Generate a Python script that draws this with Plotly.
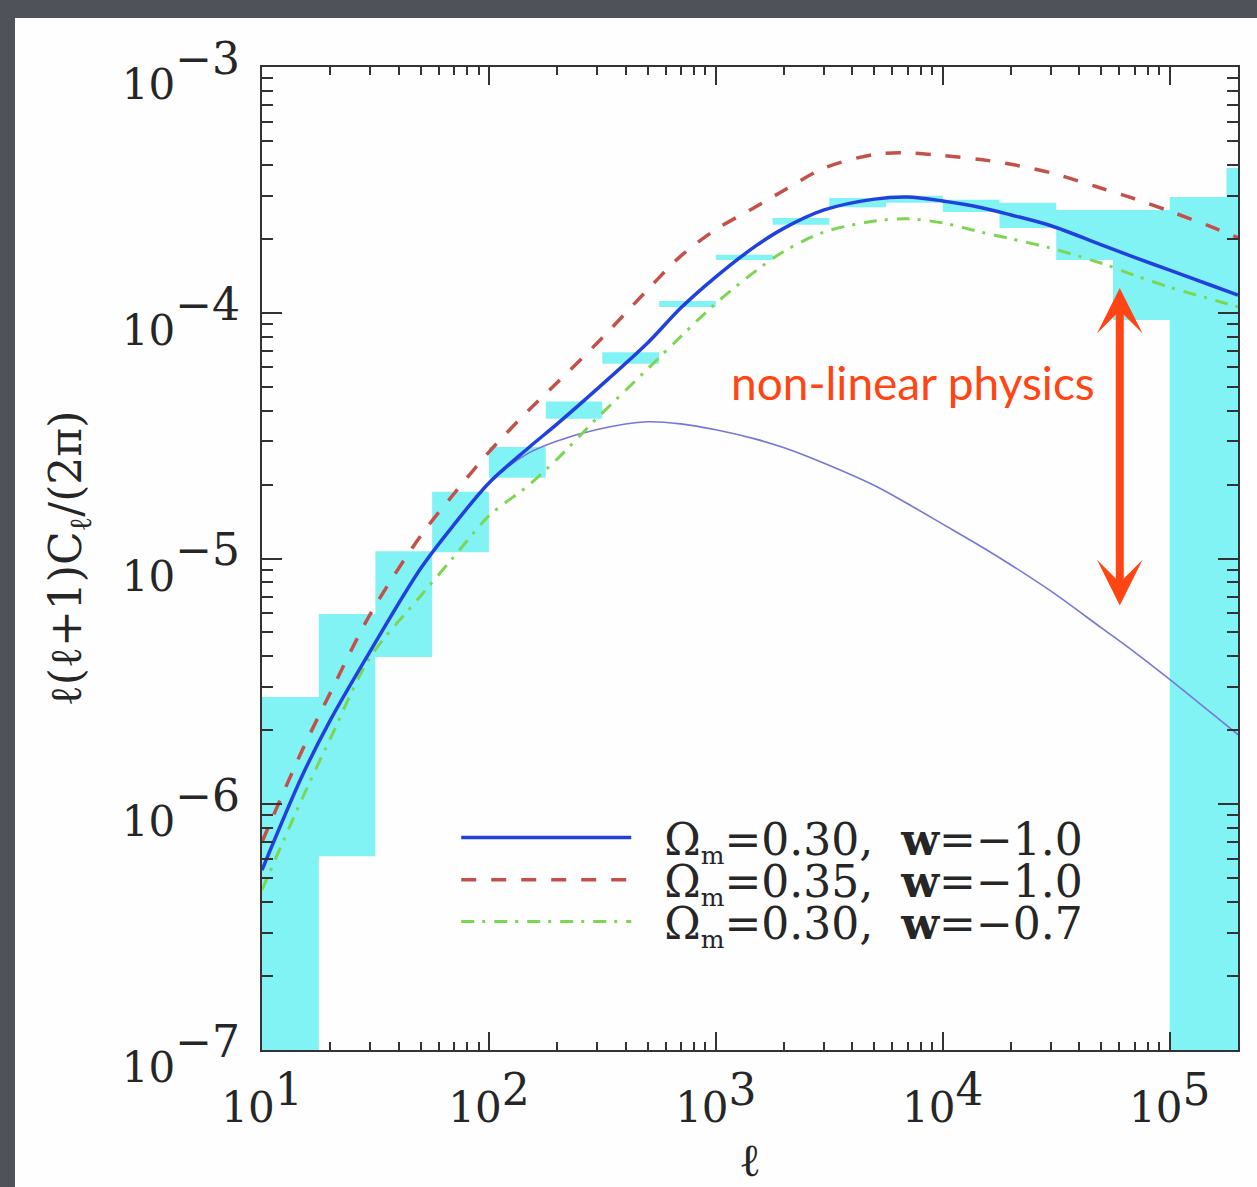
import plotly.graph_objects as go

# ---- multipole grid used for the model spectra ----
ell = [10, 15, 20, 30, 50, 70, 100, 150, 200, 300, 500, 700, 1000, 1500, 2000,
       3000, 5000, 7000, 10000, 15000, 20000, 30000, 50000, 70000, 100000,
       150000, 200000]

# non-linear spectrum, Omega_m = 0.30, w = -1.0
cl_fid = [5.40e-7, 1.30e-6, 2.20e-6, 4.20e-6, 9.10e-6, 1.37e-5, 2.03e-5, 2.83e-5,
          3.53e-5, 4.90e-5, 7.53e-5, 1.045e-4, 1.40e-4, 1.87e-4, 2.21e-4, 2.62e-4,
          2.90e-4, 2.96e-4, 2.85e-4, 2.67e-4, 2.50e-4, 2.26e-4, 1.89e-4, 1.68e-4,
          1.49e-4, 1.30e-4, 1.18e-4]

# non-linear spectrum, Omega_m = 0.35, w = -1.0
cl_om35 = [7.02e-7, 1.65e-6, 2.84e-6, 5.94e-6, 1.235e-5, 1.83e-5, 2.71e-5, 4.02e-5,
           5.20e-5, 7.53e-5, 1.24e-4, 1.70e-4, 2.18e-4, 2.70e-4, 3.15e-4, 3.88e-4,
           4.41e-4, 4.47e-4, 4.36e-4, 4.19e-4, 4.02e-4, 3.71e-4, 3.21e-4, 2.91e-4,
           2.59e-4, 2.25e-4, 2.02e-4]

# non-linear spectrum, Omega_m = 0.30, w = -0.7
cl_w07 = [4.48e-7, 1.05e-6, 1.85e-6, 3.97e-6, 7.04e-6, 1.014e-5, 1.49e-5, 1.99e-5,
          2.54e-5, 3.73e-5, 5.90e-5, 8.00e-5, 1.092e-4, 1.48e-4, 1.78e-4, 2.13e-4,
          2.36e-4, 2.41e-4, 2.32e-4, 2.12e-4, 2.00e-4, 1.83e-4, 1.59e-4, 1.42e-4,
          1.27e-4, 1.14e-4, 1.057e-4]

# linear-theory spectrum for the fiducial model
cl_lin = [5.40e-7, 1.30e-6, 2.20e-6, 4.20e-6, 9.10e-6, 1.37e-5, 2.03e-5, 2.69e-5,
          3.01e-5, 3.35e-5, 3.60e-5, 3.53e-5, 3.34e-5, 3.06e-5, 2.82e-5, 2.44e-5,
          1.98e-5, 1.67e-5, 1.38e-5, 1.109e-5, 9.41e-6, 7.36e-6, 5.22e-6, 4.16e-6,
          3.22e-6, 2.38e-6, 1.92e-6]

# ---- band-power uncertainty boxes (quarter-decade bins) ----
bin_lo = [10, 17.8, 31.6, 56.2, 100, 178, 316, 562, 1000, 1778, 3162, 5623,
          10000, 17783, 31623, 56234, 100000, 177828]
bin_hi = [17.8, 31.6, 56.2, 100, 178, 316, 562, 1000, 1778, 3162, 5623, 10000,
          17783, 31623, 56234, 100000, 177828, 316228]
box_upper = [2.73e-6, 5.94e-6, 1.07e-5, 1.87e-5, 2.84e-5, 4.35e-5, 6.90e-5,
             1.117e-4, 1.72e-4, 2.43e-4, 2.93e-4, 2.99e-4, 2.88e-4, 2.80e-4,
             2.62e-4, 2.62e-4, 2.96e-4, 3.88e-4]
box_lower = [1e-9, 6.15e-7, 3.97e-6, 1.06e-5, 2.13e-5, 3.70e-5, 6.20e-5,
             1.055e-4, 1.64e-4, 2.28e-4, 2.69e-4, 2.80e-4, 2.57e-4, 2.21e-4,
             1.64e-4, 9.34e-5, 1e-9, 1e-9]

# ---- labels ----
x_tick_vals = [10, 100, 1000, 10000, 100000]
x_tick_exp = ["1", "2", "3", "4", "5"]
y_tick_vals = [1e-7, 1e-6, 1e-5, 1e-4, 1e-3]
y_tick_exp = ["\u22127", "\u22126", "\u22125", "\u22124", "\u22123"]
SUB_M = "<sub><span style='font-size:25px'>m</span></sub>"
legend_names = [
    "\u00a0\u00a0\u03a9" + SUB_M + "=0.30,\u00a0\u00a0<b>w</b>=\u22121.0",
    "\u00a0\u00a0\u03a9" + SUB_M + "=0.35,\u00a0\u00a0<b>w</b>=\u22121.0",
    "\u00a0\u00a0\u03a9" + SUB_M + "=0.30,\u00a0\u00a0<b>w</b>=\u22120.7",
]
note_text = "non-linear physics"
x_title = "\u2113"
y_title = "\u2113(\u2113+1)C<sub>\u2113</sub>/(2\u03c0)"

SERIF = "DejaVu Serif"
INK = "#262626"
ACCENT = "#FF4513"
BASE_SIZE = 42
EXP_SIZE = 44
# the y labels use a larger nominal font so their exponents sit higher
X_TICK_NOMINAL = 42
Y_TICK_NOMINAL = 60


def tick_label(exp):
    return ("<span style='font-size:%dpx'>10</span>"
            "<sup><span style='font-size:%dpx'>%s</span></sup>" % (BASE_SIZE, EXP_SIZE, exp))


# rectangle outlines for the boxes, one closed polygon per bin
bx, by = [], []
for lo, hi, yl, yu in zip(bin_lo, bin_hi, box_lower, box_upper):
    bx += [lo, hi, hi, lo, lo, None]
    by += [yl, yl, yu, yu, yl, None]

fig = go.Figure()

fig.add_trace(go.Scatter(
    x=bx, y=by, mode="lines", fill="toself", fillcolor="#82F3F5",
    line=dict(width=0, color="#82F3F5"), showlegend=False, hoverinfo="skip"))

fig.add_trace(go.Scatter(
    x=ell, y=cl_lin, mode="lines", showlegend=False,
    line=dict(color="#7777D6", width=1.6, shape="spline", smoothing=0.9)))

fig.add_trace(go.Scatter(
    x=ell, y=cl_w07, mode="lines", name=legend_names[2], legend="legend3",
    line=dict(color="#7BD652", width=3, dash="13px,8px,3px,9px",
              shape="spline", smoothing=0.9)))

fig.add_trace(go.Scatter(
    x=ell, y=cl_om35, mode="lines", name=legend_names[1], legend="legend2",
    line=dict(color="#C4504A", width=3.5, dash="15px,15px",
              shape="spline", smoothing=0.9)))

fig.add_trace(go.Scatter(
    x=ell, y=cl_fid, mode="lines", name=legend_names[0], legend="legend",
    line=dict(color="#2141DC", width=3.5, shape="spline", smoothing=0.9)))

# minor tick positions (2..9 within each decade)
x_minor = [m * 10 ** k for k in range(1, 6) for m in range(2, 10) if m * 10 ** k <= 2.0e5]
y_minor = [m * 10.0 ** k for k in range(-7, -3) for m in range(2, 10)]

axis_common = dict(
    type="log", showgrid=False, zeroline=False, showline=True,
    linecolor="#333333", linewidth=2, mirror="ticks", ticks="inside",
    tickwidth=2, tickcolor="#333333", automargin=False,
)

fig.update_xaxes(
    **axis_common, range=[1, 5.301],
    tickfont=dict(family=SERIF, size=X_TICK_NOMINAL, color=INK),
    tickvals=x_tick_vals, ticktext=[tick_label(e) for e in x_tick_exp],
    ticklen=18, ticklabelstandoff=20,
    minor=dict(tickvals=x_minor, ticks="inside", ticklen=8, tickwidth=1.6,
               tickcolor="#333333", showgrid=False),
    title=dict(text=x_title, font=dict(family=SERIF, size=46, color=INK), standoff=18),
)
fig.update_yaxes(
    **axis_common, range=[-7, -3],
    tickfont=dict(family=SERIF, size=Y_TICK_NOMINAL, color=INK),
    tickvals=y_tick_vals, ticktext=[tick_label(e) for e in y_tick_exp],
    ticklen=20, ticklabelstandoff=8, ticklabelshift=11,
    minor=dict(tickvals=y_minor, ticks="inside", ticklen=11, tickwidth=1.6,
               tickcolor="#333333", showgrid=False),
    title=dict(text=y_title, font=dict(family=SERIF, size=44, color=INK), standoff=26),
)

legend_common = dict(
    xanchor="left", yanchor="middle", bgcolor="rgba(0,0,0,0)", borderwidth=0,
    itemwidth=170, font=dict(family=SERIF, size=44, color=INK),
)

fig.update_layout(
    width=1257, height=1187,
    margin=dict(l=262, r=19, t=67, b=137, autoexpand=False),
    paper_bgcolor="#4F5258", plot_bgcolor="#FEFEFE",
    showlegend=True,
    legend=dict(**legend_common, x=0.199, y=0.2157),
    legend2=dict(**legend_common, x=0.199, y=0.1729),
    legend3=dict(**legend_common, x=0.199, y=0.1302),
    shapes=[dict(type="rect", xref="paper", yref="paper", layer="below",
                 x0=-0.2531, x1=1.05, y0=-0.16, y1=1.0498,
                 fillcolor="#FEFEFE", line=dict(width=0))],
    annotations=[
        dict(x=4.78, y=-3.899, ax=4.78, ay=-5.197, xref="x", yref="y",
             axref="x", ayref="y", text="", showarrow=True,
             arrowside="end+start", arrowhead=3, startarrowhead=3,
             arrowwidth=8, arrowsize=0.95, startarrowsize=0.95,
             arrowcolor=ACCENT, standoff=0, startstandoff=0),
        dict(x=3.867, y=-4.282, xref="x", yref="y", text=note_text,
             showarrow=False, xanchor="center", yanchor="middle",
             font=dict(family="Lato", size=46, color=ACCENT)),
    ],
)

fig.write_html("out.html")
